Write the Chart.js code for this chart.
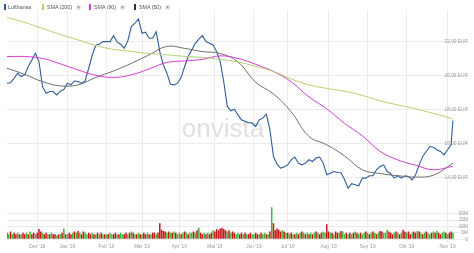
<!DOCTYPE html>
<html>
<head>
<meta charset="utf-8">
<script src="https://cdn.jsdelivr.net/npm/chart.js@4.4.1/dist/chart.umd.min.js"></script>
<style>
    html, body { margin: 0; padding: 0; background: #fff; }
    #wrap { position: relative; width: 474px; height: 253px; }
    #legend { position: absolute; left: 0; top: 0; width: 200px; height: 13px;
        font: 5.3px "Liberation Sans", Arial, sans-serif; color: #555; }
    #legend span { position: absolute; }
    .mark { top: 4px; width: 2px; height: 6px; }
    .txt { top: 4px; line-height: 6px; white-space: nowrap; }
    .close { top: 4.5px; width: 5px; height: 5px; border-radius: 50%; background: #e4e4e4;
        color: #666; font-size: 4.5px; line-height: 5px; text-align: center; }
</style>
</head>
<body>
<div id="wrap">
    <canvas id="chart" width="474" height="253"></canvas>
    <div id="legend"></div>
</div>
<script>
// trading-day index 0 = early Nov 2018, last point = early Nov 2019
const monthLabels = ["Dez '18", "Jan '19", "Feb '19", "Mär '19", "Apr '19", "Mai '19",
    "Jun '19", "Jul '19", "Aug '19", "Sep '19", "Okt '19", "Nov '19"];
const monthStartDays = [17, 34, 56, 76, 97, 117, 139, 158, 181, 203, 225, 248];

const priceTicks = [14, 16, 18, 20, 22];
const volumeTicks = [0, 5, 10, 15, 20];

// Lufthansa close (EUR), read every second trading day
const priceDays = [0, 2, 4, 6, 8, 10, 12, 14, 16, 18, 20, 22, 24, 26, 28, 30, 32, 34, 36, 38,
    40, 42, 44, 46, 48, 50, 52, 54, 56, 58, 60, 62, 64, 66, 68, 70, 72, 74, 76, 78,
    80, 82, 84, 86, 88, 90, 92, 94, 96, 98, 100, 102, 104, 106, 108, 110, 112, 114, 116, 118,
    120, 122, 124, 126, 128, 130, 132, 134, 136, 138, 140, 142, 144, 146, 148, 150, 152, 154, 156, 158,
    160, 162, 164, 166, 168, 170, 172, 174, 176, 178, 180, 182, 184, 186, 188, 190, 192, 194, 196, 198,
    200, 202, 204, 206, 208, 210, 212, 214, 216, 218, 220, 222, 224, 226, 228, 230, 232, 234, 236, 238,
    240, 242, 244, 246, 248, 250, 251];
const priceValues = [19.57, 19.6, 19.86, 20.16, 19.96, 20.06, 20.55, 20.94, 21.33, 20.84,
    19.37, 18.98, 19.08, 19.08, 18.88, 19.1, 19.2, 19.57, 19.47, 19.7,
    19.67, 19.57, 19.7, 20.45, 21.23, 21.8, 21.86, 22.02, 22.02, 22.02,
    22.37, 22.0, 21.85, 21.63, 22.06, 22.9, 23.1, 23.35, 22.51, 22.57,
    22.22, 22.22, 22.61, 21.43, 20.65, 20.16, 19.51, 19.47, 19.57, 19.9,
    20.55, 21.14, 21.53, 21.92, 22.16, 22.37, 22.02, 21.92, 21.82, 21.43,
    20.84, 19.67, 18.2, 17.94, 18.04, 17.7, 17.41, 17.31, 17.25, 17.22,
    17.02, 17.41, 17.51, 17.75, 16.82, 15.25, 14.8, 14.57, 14.63, 14.76,
    15.06, 15.22, 14.86, 14.76, 14.86, 15.06, 14.96, 15.16, 15.22, 14.86,
    14.18, 14.27, 14.37, 14.31, 14.3, 13.9, 13.39, 13.65, 13.59, 13.53,
    13.98, 13.98, 14.12, 14.12, 14.47, 14.67, 14.76, 14.37, 14.24, 13.98,
    14.12, 13.98, 14.12, 14.08, 13.88, 14.18, 14.76, 15.25, 15.55, 15.84,
    15.8, 15.65, 15.55, 15.35, 15.65, 15.94, 17.37];

// moving averages, read every ten trading days
const smaDays = [0, 10, 20, 30, 40, 50, 60, 70, 80, 90, 100, 110, 120, 130, 140, 150, 160,
    170, 180, 190, 200, 210, 220, 230, 240, 251];
const sma200 = [23.44, 23.15, 22.79, 22.44, 22.12, 21.79, 21.56, 21.44, 21.32, 21.24, 21.15,
    21.09, 20.97, 20.82, 20.56, 20.26, 19.82, 19.47, 19.26, 19.1, 18.85, 18.53, 18.29, 18.06, 17.79, 17.47];
const sma90 = [21.14, 21.14, 21.03, 20.71, 20.35, 20.03, 19.91, 20.06, 20.41, 20.79, 20.88,
    20.97, 21.18, 21.03, 20.68, 20.26, 19.65, 18.76, 18.06, 17.21, 16.47, 15.56, 15.05, 14.74, 14.47, 14.68];
const sma50 = [20.45, 20.09, 19.66, 19.41, 19.47, 19.91, 20.29, 20.74, 21.24, 21.74, 21.62,
    21.43, 21.32, 20.82, 19.62, 18.94, 17.88, 16.43, 15.94, 15.29, 14.47, 14.25, 14.12, 14.04, 14.15, 14.85];

// daily volume in millions, one per trading day
const volume = [
    5, 4, 6, 4, 5, 4, 5, 4, 4, 5, 4, 5, 4, 6, 4, 5, 4,                      // Nov
    5, 8, 6, 5, 4, 5, 4, 4, 5, 4, 4, 3, 4, 4, 5, 8.5, 4,                    // Dez
    4, 5, 4, 5, 6, 5, 6.5, 5, 4, 6, 5, 4, 5, 4, 5, 4, 4, 5, 4, 5, 4, 4,     // Jan
    4, 4, 5, 4, 4, 5, 4, 4, 5, 4, 4, 5, 4, 5, 6, 5, 4, 4, 5, 4,             // Feb
    4, 5, 4, 5, 4, 4, 5, 5, 4, 5, 12.5, 7.5, 6.5, 6, 5, 6, 5, 5, 6, 5, 4,   // Mär
    5, 4, 5, 6, 5, 4, 5, 5, 6, 5, 7, 9, 5, 4, 5, 4, 5, 4, 5, 7,             // Apr
    6, 8, 7, 8.5, 9, 8, 7, 6, 7, 5, 6, 5, 4, 5, 4, 5, 4, 5, 4, 4, 5, 4,     // Mai
    4, 5, 4, 4, 5, 4, 5, 4, 4, 6, 25, 12.5, 7, 8.5, 7.5, 6, 7, 6, 5,        // Jun
    5, 4, 5, 4, 4, 5, 4, 5, 6, 5, 4, 5, 4, 5, 4, 5, 6, 5, 4, 5, 6, 5, 11.7, // Jul
    6, 5, 5, 4, 6, 5, 5, 6.5, 6, 4, 5, 4, 5, 4, 5, 6, 5, 4, 5, 4, 5, 6,     // Aug
    5, 4, 5, 6, 5, 4, 5, 6.5, 6, 5, 5, 7.5, 6, 5, 4, 5, 6, 5, 4, 5, 7.5, 6, // Sep
    5, 6, 4, 5, 6, 5, 6.5, 6, 5, 4, 5, 6, 5, 4, 5, 6, 5, 6.5, 5, 4, 5, 6, 5, // Okt
    4, 5, 6, 5                                                              // Nov
];
// u = up day (green), d = down day (red)
const volumeDir =
    'dugudduguddugudgu' +
    'dddudduguddugudud' +
    'uddudugudduugdudugudug' +
    'uduugduguuddugudugud' +
    'ugdudugdudddddudugudu' +
    'uguduguudugudduguddu' +
    'dddddddudugduudgudugdu' +
    'ugduduugududddddudu' +
    'dudugudududugudugudguud' +
    'dudugduguudududuguduud' +
    'ugudugudduuudddugugudd' +
    'udguddugududuugugugduud' +
    'ugdu';

const colors = {
    price: '#2d5c9c',
    sma200: '#b8cf6c',
    sma90: '#d63bd3',
    sma50: '#6f6f6f',
    up: '#3dbb34',
    down: '#c8141b',
    grid: '#ececec',
    tick: '#9a9a9a',
};

const legendItems = [
    { label: 'Lufthansa', color: colors.price, mark: 4, text: 8 },
    { label: 'SMA (200)', color: colors.sma200, mark: 42, text: 47, close: 76 },
    { label: 'SMA (90)', color: colors.sma90, mark: 89, text: 94, close: 120 },
    { label: 'SMA (50)', color: '#333', mark: 134, text: 139, close: 165 },
];

function buildLegend() {
    const legend = document.getElementById('legend');
    legendItems.forEach((item) => {
        legend.insertAdjacentHTML('beforeend',
            `<span class="mark" style="left:${item.mark}px;background:${item.color}"></span>` +
            `<span class="txt" style="left:${item.text}px">${item.label}</span>` +
            (item.close ? `<span class="close" style="left:${item.close}px">×</span>` : ''));
    });
}

const toPoints = (days, values) => days.map((d, i) => ({ x: d, y: values[i] }));

const watermark = {
    id: 'watermark',
    beforeDatasetsDraw(chart) {
        const { ctx } = chart;
        ctx.save();
        ctx.font = '26px "Liberation Sans", Arial, sans-serif';
        ctx.fillStyle = '#e0e0e0';
        ctx.textAlign = 'center';
        ctx.fillText('onvista', 223, 137);
        ctx.restore();
    },
};

const tickFont = { size: 4.8, family: '"Liberation Sans", Arial, sans-serif' };

buildLegend();

new Chart(document.getElementById('chart'), {
    data: {
        datasets: [
            {
                type: 'line', label: 'SMA (200)', yAxisID: 'y',
                data: toPoints(smaDays, sma200),
                borderColor: colors.sma200, borderWidth: 1, pointRadius: 0, tension: 0.4,
            },
            {
                type: 'line', label: 'SMA (90)', yAxisID: 'y',
                data: toPoints(smaDays, sma90),
                borderColor: colors.sma90, borderWidth: 1, pointRadius: 0, tension: 0.4,
            },
            {
                type: 'line', label: 'SMA (50)', yAxisID: 'y',
                data: toPoints(smaDays, sma50),
                borderColor: colors.sma50, borderWidth: 1, pointRadius: 0, tension: 0.4,
            },
            {
                type: 'line', label: 'Lufthansa', yAxisID: 'y',
                data: toPoints(priceDays, priceValues),
                borderColor: colors.price, borderWidth: 1.1, pointRadius: 0, tension: 0,
            },
            {
                type: 'bar', label: 'Volumen', yAxisID: 'vol',
                data: volume.map((v, i) => ({ x: i, y: v })),
                backgroundColor: volume.map((v, i) => volumeDir[i] === 'u' ? colors.up : colors.down),
                barPercentage: 0.85, categoryPercentage: 1,
            },
        ],
    },
    options: {
        responsive: false,
        animation: false,
        layout: { padding: { left: 7, right: 6, top: 10, bottom: 2 } },
        plugins: { legend: { display: false }, tooltip: { enabled: false } },
        scales: {
            x: {
                type: 'linear', min: 0, max: 259.5, offset: false,
                afterBuildTicks: (scale) => { scale.ticks = monthStartDays.map((v) => ({ value: v })); },
                ticks: {
                    autoSkip: false, maxRotation: 0, padding: 1, color: colors.tick, font: tickFont,
                    callback: (v) => monthLabels[monthStartDays.indexOf(v)],
                },
                grid: { color: colors.grid, tickLength: 4, offset: false },
                border: { display: false },
            },
            y: {
                position: 'right', stack: 'main', stackWeight: 5.65, weight: 0,
                min: 12.41, max: 23.88,
                afterBuildTicks: (scale) => { scale.ticks = priceTicks.map((v) => ({ value: v })); },
                ticks: {
                    mirror: true, padding: 0, autoSkip: false, color: colors.tick, font: tickFont,
                    callback: (v) => v.toFixed(2).replace('.', ',') + ' EUR',
                },
                grid: { color: colors.grid, drawTicks: false },
                border: { display: false },
            },
            vol: {
                position: 'right', stack: 'main', stackWeight: 1, weight: 1,
                min: 0, max: 27,
                afterBuildTicks: (scale) => { scale.ticks = volumeTicks.map((v) => ({ value: v })); },
                ticks: {
                    mirror: true, padding: 0, autoSkip: false, color: colors.tick, font: tickFont,
                    callback: (v) => v === 0 ? '0' : v + 'M',
                },
                grid: { color: colors.grid, drawTicks: false },
                border: { display: false },
            },
        },
    },
    plugins: [watermark],
});
</script>
</body>
</html>
